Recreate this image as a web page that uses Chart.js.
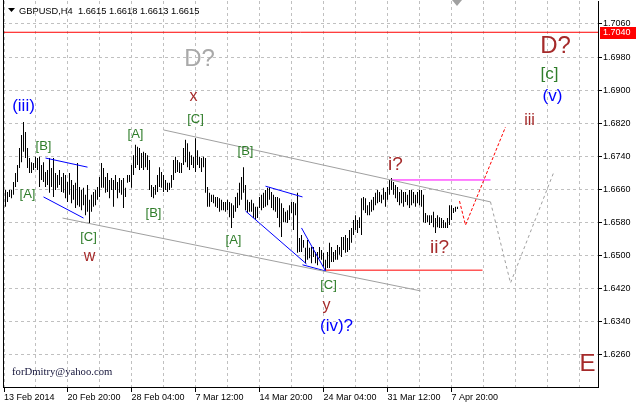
<!DOCTYPE html>
<html>
<head>
<meta charset="utf-8">
<script src="https://cdn.jsdelivr.net/npm/chart.js@4/dist/chart.umd.min.js"></script>
<style>
  html, body { margin: 0; padding: 0; background: #fff; }
  canvas { display: block; }
</style>
</head>
<body>
<canvas id="chart" width="636" height="406"></canvas>
<script>
// GBPUSD H4 bars (oldest first)
const barHigh = [
  1.6659,1.6654,1.6659,1.6659,1.6678,1.6700,1.6719,1.6760,1.6792,1.6823,
  1.6799,1.6760,1.6736,1.6726,1.6724,1.6739,1.6736,1.6739,1.6719,1.6726,
  1.6702,1.6707,1.6736,1.6712,1.6736,1.6700,1.6695,1.6707,1.6690,1.6700,
  1.6695,1.6678,1.6700,1.6683,1.6671,1.6676,1.6724,1.6666,1.6659,1.6664,
  1.6647,1.6671,1.6635,1.6647,1.6654,1.6659,1.6666,1.6690,1.6724,1.6712,
  1.6690,1.6700,1.6683,1.6688,1.6683,1.6695,1.6678,1.6688,1.6683,1.6688,
  1.6664,1.6695,1.6695,1.6719,1.6743,1.6768,1.6763,1.6760,1.6748,1.6751,
  1.6748,1.6743,1.6731,1.6671,1.6666,1.6671,1.6695,1.6714,1.6702,1.6695,
  1.6683,1.6676,1.6676,1.6695,1.6731,1.6739,1.6731,1.6726,1.6724,1.6760,
  1.6780,1.6772,1.6751,1.6743,1.6739,1.6784,1.6755,1.6739,1.6736,1.6739,
  1.6736,1.6666,1.6652,1.6647,1.6647,1.6642,1.6642,1.6639,1.6635,1.6630,
  1.6630,1.6635,1.6630,1.6627,1.6622,1.6642,1.6652,1.6676,1.6690,1.6714,
  1.6671,1.6635,1.6630,1.6635,1.6627,1.6618,1.6618,1.6642,1.6647,1.6652,
  1.6659,1.6664,1.6666,1.6654,1.6647,1.6642,1.6642,1.6639,1.6627,1.6615,
  1.6606,1.6610,1.6622,1.6630,1.6630,1.6627,1.6652,1.6543,1.6550,1.6538,
  1.6519,1.6538,1.6519,1.6521,1.6521,1.6509,1.6509,1.6521,1.6514,1.6507,
  1.6490,1.6509,1.6531,1.6521,1.6509,1.6514,1.6526,1.6521,1.6545,1.6545,
  1.6550,1.6543,1.6562,1.6567,1.6586,1.6598,1.6586,1.6593,1.6639,1.6642,
  1.6639,1.6622,1.6630,1.6635,1.6642,1.6652,1.6659,1.6654,1.6647,1.6664,
  1.6654,1.6666,1.6683,1.6688,1.6678,1.6671,1.6666,1.6654,1.6659,1.6654,
  1.6654,1.6647,1.6659,1.6659,1.6654,1.6647,1.6654,1.6659,1.6659,1.6647,
  1.6603,1.6598,1.6598,1.6598,1.6606,1.6591,1.6598,1.6593,1.6591,1.6586,
  1.6581,1.6591,1.6622,1.6622,1.6615,1.6618,1.6618
];
const barLow = [
  1.6618,1.6630,1.6642,1.6639,1.6647,1.6666,1.6678,1.6712,1.6726,1.6751,
  1.6736,1.6712,1.6700,1.6700,1.6707,1.6712,1.6707,1.6666,1.6683,1.6678,
  1.6666,1.6671,1.6652,1.6666,1.6642,1.6659,1.6664,1.6671,1.6654,1.6652,
  1.6639,1.6630,1.6647,1.6627,1.6635,1.6615,1.6622,1.6618,1.6610,1.6622,
  1.6598,1.6606,1.6579,1.6606,1.6618,1.6622,1.6635,1.6642,1.6664,1.6664,
  1.6652,1.6654,1.6639,1.6659,1.6618,1.6659,1.6639,1.6652,1.6647,1.6615,
  1.6642,1.6676,1.6678,1.6664,1.6695,1.6712,1.6719,1.6707,1.6712,1.6707,
  1.6714,1.6707,1.6659,1.6642,1.6639,1.6647,1.6654,1.6666,1.6664,1.6654,
  1.6659,1.6654,1.6659,1.6664,1.6683,1.6700,1.6702,1.6700,1.6700,1.6719,
  1.6726,1.6714,1.6707,1.6719,1.6712,1.6702,1.6719,1.6712,1.6702,1.6714,
  1.6652,1.6618,1.6618,1.6630,1.6627,1.6618,1.6615,1.6606,1.6610,1.6610,
  1.6606,1.6610,1.6593,1.6567,1.6591,1.6606,1.6615,1.6622,1.6635,1.6652,
  1.6610,1.6603,1.6606,1.6606,1.6591,1.6586,1.6591,1.6615,1.6610,1.6615,
  1.6618,1.6622,1.6635,1.6615,1.6610,1.6606,1.6591,1.6569,1.6545,1.6581,
  1.6581,1.6579,1.6586,1.6603,1.6562,1.6598,1.6507,1.6509,1.6509,1.6519,
  1.6482,1.6490,1.6494,1.6482,1.6497,1.6482,1.6477,1.6494,1.6490,1.6473,
  1.6465,1.6470,1.6470,1.6485,1.6485,1.6490,1.6490,1.6502,1.6497,1.6514,
  1.6507,1.6509,1.6514,1.6531,1.6550,1.6562,1.6555,1.6567,1.6550,1.6610,
  1.6603,1.6598,1.6598,1.6606,1.6610,1.6622,1.6627,1.6630,1.6627,1.6635,
  1.6618,1.6635,1.6647,1.6659,1.6647,1.6639,1.6630,1.6622,1.6627,1.6618,
  1.6630,1.6622,1.6615,1.6622,1.6627,1.6618,1.6627,1.6622,1.6618,1.6581,
  1.6579,1.6581,1.6574,1.6579,1.6569,1.6555,1.6569,1.6567,1.6567,1.6567,
  1.6567,1.6567,1.6574,1.6586,1.6603,1.6606,1.6613
];

const priceTicks = [1.6260, 1.6340, 1.6420, 1.6500, 1.6580, 1.6660, 1.6740, 1.6820, 1.6900, 1.6980, 1.7060];
const timeLabels = ["13 Feb 2014", "20 Feb 20:00", "28 Feb 04:00", "7 Mar 12:00", "14 Mar 20:00", "24 Mar 04:00", "31 Mar 12:00", "7 Apr 20:00"];
const timeLabelBars = [-0.75, 31, 63, 95, 127, 159, 191, 223];
const gridBars = [15, 31, 47, 63, 79, 95, 111, 127, 143, 159, 175, 191, 207, 223, 239, 255, 271, 287];

const lastQuote = "GBPUSD,H4  1.6615 1.6618 1.6613 1.6615";
const targetLevel = 1.7040;

// drawn objects: [barIndex, price] pairs
const channelTop = [[79, 1.6804], [242.5, 1.6630]];
const channelBottom = [[28.5, 1.6591], [207.5, 1.6415]];
const wedge1Top = [[20, 1.6736], [41, 1.6714]];
const wedge1Bottom = [[19, 1.6642], [39, 1.6591]];
const wedge2Top = [[130, 1.6668], [148.5, 1.6642]];
const wedge2Bottom = [[120, 1.6608], [150.5, 1.6480]];
const wedge2Base = [[148.5, 1.6478], [160, 1.6463]];
const wedge2Leg = [[148, 1.6567], [160, 1.6463]];
const lowLevel = [[160, 1.6465], [238.5, 1.6465]];
const highLevel = [[193, 1.6683], [242.5, 1.6683]];
const pathRed = [[227, 1.6632], [230, 1.6574], [250, 1.6811]];
const pathGray = [[242.5, 1.6630], [252.5, 1.6434], [274, 1.6700]];

// wave marks: text, barIndex, price
const waveLabels = [
  ["(iii)", 9, 1.6862, "blue"],
  ["[B]", 19, 1.6765, "green"],
  ["[A]", 11, 1.6649, "green"],
  ["[C]", 41.5, 1.6545, "green"],
  ["w", 42, 1.6497, "brown"],
  ["[A]", 65, 1.6792, "green"],
  ["[B]", 74, 1.6602, "green"],
  ["x", 94, 1.6885, "brown"],
  ["[C]", 95, 1.6830, "green"],
  ["D?", 97, 1.6975, "gray"],
  ["[B]", 120, 1.6751, "green"],
  ["[A]", 114, 1.6536, "green"],
  ["[C]", 161.5, 1.6427, "green"],
  ["y", 160.5, 1.6380, "brown"],
  ["(iv)?", 165.5, 1.6330, "blue"],
  ["i?", 195, 1.6720, "brown"],
  ["ii?", 217, 1.6520, "brown"],
  ["iii", 262, 1.6826, "brown"],
  ["D?", 275, 1.7006, "brown"],
  ["[c]", 272, 1.6939, "green"],
  ["(v)", 273.5, 1.6885, "blue"],
  ["E", 291, 1.6238, "brown"]
];

const styles = {
  blue:  { color: "#0000ff", size: 17 },
  green: { color: "#2f7d2a", size: 13 },
  brown: { color: "#a52a2a", size: 17 },
  gray:  { color: "#a9a9a9", size: 24 }
};
const bigMarks = { "D?": 24, "E": 24, "i?": 19, "ii?": 19, "iii": 16, "[c]": 17, "w": 16, "x": 16, "y": 16 };

const pts = arr => arr.map(p => ({ x: p[0], y: p[1] }));
const lineSet = (arr, color, dash) => ({
  type: "line",
  data: pts(arr),
  borderColor: color,
  borderWidth: 1,
  borderDash: dash || [],
  pointRadius: 0,
  fill: false,
  tension: 0,
  order: 1
});

const framePlugin = {
  id: "frame",
  beforeDraw(chart) {
    const ctx = chart.ctx;
    ctx.save();
    ctx.fillStyle = "#fff";
    ctx.fillRect(0, 0, chart.width, chart.height);
    ctx.restore();
  },
  afterDraw(chart) {
    const { ctx, chartArea, scales } = chart;
    ctx.save();
    // left frame
    ctx.strokeStyle = "#000";
    ctx.lineWidth = 1;
    ctx.beginPath();
    ctx.moveTo(chartArea.left + 0.5, 0);
    ctx.lineTo(chartArea.left + 0.5, chartArea.bottom);
    ctx.stroke();

    // chart shift marker
    ctx.fillStyle = "#a0a0a0";
    ctx.beginPath();
    ctx.moveTo(452, 0); ctx.lineTo(462, 0); ctx.lineTo(457, 6); ctx.closePath();
    ctx.fill();

    // title
    ctx.fillStyle = "#000";
    ctx.beginPath();
    ctx.moveTo(8, 8); ctx.lineTo(15, 8); ctx.lineTo(11.5, 12); ctx.closePath();
    ctx.fill();
    ctx.font = "9.3px 'Liberation Sans', Arial, sans-serif";
    ctx.textBaseline = "alphabetic";
    ctx.textAlign = "left";
    ctx.fillText(lastQuote, 19, 14);

    // signature
    ctx.font = "10.7px 'Liberation Serif', 'Times New Roman', serif";
    ctx.fillStyle = "#14143a";
    ctx.fillText("forDmitry@yahoo.com", 12, 375);

    // price tag on axis
    const ty = Math.round(scales.y.getPixelForValue(targetLevel));
    ctx.fillStyle = "#ff0000";
    ctx.fillRect(600, ty - 5, 36, 12);
    ctx.fillStyle = "#fff";
    ctx.font = "9px 'Liberation Sans', Arial, sans-serif";
    ctx.textBaseline = "middle";
    ctx.fillText(targetLevel.toFixed(4), 603, ty + 1);
    ctx.restore();
  }
};

const labelPlugin = {
  id: "waveLabels",
  afterDatasetsDraw(chart) {
    const { ctx, scales } = chart;
    ctx.save();
    ctx.textAlign = "center";
    ctx.textBaseline = "middle";
    waveLabels.forEach(([text, bar, price, kind]) => {
      const st = styles[kind];
      const size = bigMarks[text] || st.size;
      ctx.font = size + "px 'Liberation Sans', Arial, sans-serif";
      ctx.fillStyle = st.color;
      ctx.fillText(text, scales.x.getPixelForValue(bar), scales.y.getPixelForValue(price));
    });
    ctx.restore();
  }
};

const axisFont = { family: "'Liberation Sans', Arial, sans-serif", size: 9 };
const isLabelTick = c => !!(c && c.tick && timeLabelBars.indexOf(c.tick.value) >= 0);
const noPad = s => { s.paddingLeft = 0; s.paddingRight = 0; s.paddingTop = 0; s.paddingBottom = 0; };

new Chart(document.getElementById("chart"), {
  data: {
    datasets: [
      {
        type: "bar",
        data: barHigh.map((h, i) => ({ x: i, y: [barLow[i], h] })),
        backgroundColor: "#000",
        borderWidth: 0,
        barThickness: 1,
        inflateAmount: 0,
        order: 2
      },
      lineSet([[-1.25, targetLevel], [296.25, targetLevel]], "#ff0000"),
      lineSet(channelTop, "#a0a0a0"),
      lineSet(channelBottom, "#a0a0a0"),
      lineSet(wedge1Top, "#0000ff"),
      lineSet(wedge1Bottom, "#0000ff"),
      lineSet(wedge2Top, "#0000ff"),
      lineSet(wedge2Bottom, "#0000ff"),
      lineSet(wedge2Base, "#0000ff"),
      lineSet(wedge2Leg, "#0000ff"),
      lineSet(lowLevel, "#ff0000"),
      lineSet(highLevel, "#ff00ff"),
      lineSet(pathRed, "#ff0000", [3, 2]),
      lineSet(pathGray, "#a0a0a0", [3, 3])
    ]
  },
  options: {
    responsive: false,
    animation: false,
    events: [],
    layout: { padding: { left: 3, top: 1, right: 0, bottom: 0 } },
    plugins: { legend: { display: false }, tooltip: { enabled: false } },
    scales: {
      x: {
        type: "linear",
        offset: false,
        min: -1.25,
        max: 296.25,
        afterBuildTicks: s => {
          s.ticks = [-0.75].concat(gridBars).map(v => ({ value: v }));
        },
        afterFit: s => { s.height = 19; noPad(s); },
        ticks: {
          autoSkip: false,
          maxRotation: 0,
          align: "start",
          padding: 0,
          color: "#000",
          font: axisFont,
          callback: v => {
            const k = timeLabelBars.indexOf(v);
            return k >= 0 ? timeLabels[k] : "";
          }
        },
        grid: {
          offset: false,
          color: "#c0c0c0",
          tickLength: 5,
          tickColor: c => (isLabelTick(c) ? "#000" : "rgba(0,0,0,0)")
        },
        border: { display: true, color: "#000", width: 1, dash: [3, 3] }
      },
      y: {
        type: "linear",
        position: "right",
        min: 1.618259,
        max: 1.711559,
        afterBuildTicks: s => {
          s.ticks = priceTicks.map(v => ({ value: v }));
        },
        afterFit: s => { s.width = 38; noPad(s); },
        ticks: {
          padding: 1,
          color: "#000",
          font: axisFont,
          callback: v => v.toFixed(4)
        },
        grid: { color: "#c0c0c0", tickLength: 4, tickColor: "#000" },
        border: { display: true, color: "#000", width: 1, dash: [3, 3] }
      }
    }
  },
  plugins: [framePlugin, labelPlugin]
});
</script>
</body>
</html>
